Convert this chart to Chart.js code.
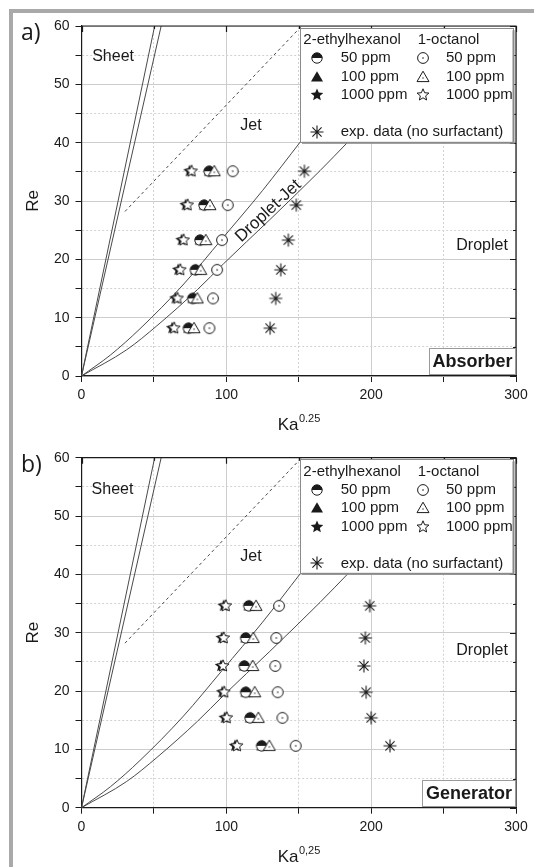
<!DOCTYPE html>
<html>
<head>
<meta charset="utf-8">
<script src="https://cdn.jsdelivr.net/npm/chart.js@4.4.1/dist/chart.umd.min.js"></script>
<style>
  html, body { margin: 0; padding: 0; background: #fff; }
  body { width: 534px; height: 867px; position: relative; overflow: hidden; }
  #panelA { position: absolute; left: 0; top: 0; }
  #panelB { position: absolute; left: 0; top: 433px; }
  .frame-top { position: absolute; left: 9px; top: 9px; width: 525px; height: 4px; background: #a9a9a9; }
  .frame-left { position: absolute; left: 9px; top: 9px; width: 4px; height: 858px; background: #a9a9a9; }
</style>
</head>
<body>
<canvas id="panelA" width="534" height="433"></canvas>
<canvas id="panelB" width="534" height="434"></canvas>
<div class="frame-top"></div>
<div class="frame-left"></div>
<script>
// ---- values (x = Ka^0.25, y = Re) ----

// a) absorber
const absRe      = [35.1, 29.3, 23.3, 18.2, 13.3, 8.2];
const absEh50    = [88.1, 84.6, 81.8, 78.6, 76.8, 73.8];
const absEh100   = [88.6, 85.1, 82.3, 79.1, 77.3, 74.3];
const absEh1000  = [74.6, 71.9, 69.1, 66.8, 64.9, 62.6];
const absOc50    = [104.4, 101.0, 97.0, 93.6, 90.8, 88.3];
const absOc100   = [91.7, 88.7, 85.8, 82.3, 80.0, 77.7];
const absOc1000  = [76.0, 73.3, 70.5, 68.2, 66.3, 64.0];
const absExp     = [153.9, 148.3, 142.8, 137.6, 134.1, 130.2];

// b) generator
const genRe      = [34.6, 29.1, 24.3, 19.8, 15.4, 10.6];
const genEh50    = [115.5, 113.4, 112.4, 113.4, 116.4, 124.4];
const genEh100   = [116.0, 113.9, 112.9, 113.9, 116.9, 124.9];
const genEh1000  = [98.2, 96.8, 96.3, 97.2, 98.9, 106.0];
const genOc50    = [136.4, 134.5, 133.8, 135.5, 138.7, 147.9];
const genOc100   = [120.5, 118.6, 118.2, 119.6, 122.1, 129.7];
const genOc1000  = [99.6, 98.2, 97.7, 98.6, 100.3, 107.4];
const genExp     = [199.0, 196.0, 195.0, 196.5, 200.0, 213.0];

// regime boundaries (same in both panels)
const sheet1X = [0, 50.5];
const sheet1Re = [0, 60];
const sheet2X = [0, 55.0];
const sheet2Re = [0, 60];
const jetX = [0, 20, 40.4, 70, 97, 125, 151.3];
const jetRe = [0, 3.6, 8.1, 15.6, 23.5, 31.8, 40.2];
const dropX = [0, 31.2, 52, 80, 97.9, 130, 164.7, 184.3];
const dropRe = [0, 4.5, 8.6, 14.8, 19.2, 26.8, 35.2, 40.2];
const dashX = [30.0, 152.0];
const dashRe = [28.2, 60];

// axes
const xMin = 0, xMax = 300, xStep = 50, xMajor = 100;
const yMin = 0, yMax = 60, yStep = 5, yMajor = 10;

// legend texts
const legendHeads = ['2-ethylhexanol', '1-octanol'];
const legendConc = ['50 ppm', '100 ppm', '1000 ppm'];
const legendExp = 'exp. data (no surfactant)';

const FONT = '"Liberation Sans", Arial, sans-serif';
const INK = '#1a1a1a';

function pts(xs, ys) {
    return xs.map((x, i) => ({ x: x, y: ys[i] }));
}

// ---- marker images ----
function marker(size, draw) {
    const c = document.createElement('canvas');
    c.width = size;
    c.height = size;
    const g = c.getContext('2d');
    g.translate(size / 2, size / 2);
    g.lineWidth = 1;
    g.strokeStyle = INK;
    g.fillStyle = INK;
    draw(g);
    return c;
}

function starPath(g, r) {
    g.beginPath();
    for (let i = 0; i < 10; i++) {
        const rr = i % 2 ? r * 0.45 : r;
        const ang = -Math.PI / 2 + i * Math.PI / 5;
        g.lineTo(rr * Math.cos(ang), rr * Math.sin(ang));
    }
    g.closePath();
}

function triPath(g) {
    g.beginPath();
    g.moveTo(0, -5.8);
    g.lineTo(6, 4.6);
    g.lineTo(-6, 4.6);
    g.closePath();
}

const mHalf = marker(14, g => {
    g.beginPath(); g.arc(0, 0, 5.2, 0, Math.PI * 2);
    g.fillStyle = '#fff'; g.fill();
    g.beginPath(); g.arc(0, 0, 5.2, Math.PI, Math.PI * 2); g.closePath();
    g.fillStyle = INK; g.fill();
    g.beginPath(); g.arc(0, 0, 5.2, 0, Math.PI * 2); g.stroke();
});
const mOpenCircle = marker(14, g => {
    g.beginPath(); g.arc(0, 0, 5.4, 0, Math.PI * 2);
    g.fillStyle = '#fff'; g.fill(); g.stroke();
    g.fillStyle = INK;
    g.beginPath(); g.arc(0, 0, 0.8, 0, Math.PI * 2); g.fill();
});
const mTri = marker(14, g => { triPath(g); g.fill(); });
const mOpenTri = marker(14, g => {
    triPath(g); g.fillStyle = '#fff'; g.fill(); g.stroke();
    g.fillStyle = INK;
    g.beginPath(); g.arc(0, 1, 0.7, 0, Math.PI * 2); g.fill();
});
const mStar = marker(16, g => { starPath(g, 6.6); g.fill(); });
const mOpenStar = marker(16, g => {
    starPath(g, 6.2); g.fillStyle = '#fff'; g.fill(); g.stroke();
});
const mAsterisk = marker(16, g => {
    g.lineWidth = 1.1;
    g.beginPath();
    for (let i = 0; i < 4; i++) {
        const ang = i * Math.PI / 4;
        g.moveTo(-6.5 * Math.cos(ang), -6.5 * Math.sin(ang));
        g.lineTo(6.5 * Math.cos(ang), 6.5 * Math.sin(ang));
    }
    g.stroke();
});

// ---- datasets ----
function curve(xs, ys, dash) {
    return {
        data: pts(xs, ys),
        showLine: true,
        borderColor: '#4a4a4a',
        borderWidth: 1,
        borderDash: dash || [],
        pointRadius: 0,
        cubicInterpolationMode: 'monotone',
        order: 20
    };
}

function points(xs, ys, style, order) {
    return {
        data: pts(xs, ys),
        showLine: false,
        pointStyle: style,
        pointRadius: 6,
        order: order
    };
}

function panelDatasets(re, eh50, eh100, eh1000, oc50, oc100, oc1000, exp) {
    return [
        curve(sheet1X, sheet1Re),
        curve(sheet2X, sheet2Re),
        curve(dashX, dashRe, [3, 3]),
        curve(jetX, jetRe),
        curve(dropX, dropRe),
        points(exp, re, mAsterisk, 9),
        points(eh100, re, mTri, 8),
        points(eh50, re, mHalf, 7),
        points(oc100, re, mOpenTri, 6),
        points(oc50, re, mOpenCircle, 5),
        points(eh1000, re, mStar, 4),
        points(oc1000, re, mOpenStar, 3)
    ];
}

// ---- decorations drawn on top of the plot ----
const panelDecor = {
    id: 'panelDecor',
    afterDraw(chart, args, opts) {
        const { ctx, chartArea: a, scales: { x, y } } = chart;
        ctx.save();

        // top / right axis with inward ticks
        ctx.strokeStyle = INK;
        ctx.lineWidth = 1.2;
        ctx.beginPath();
        ctx.moveTo(a.left, a.top);
        ctx.lineTo(a.right, a.top);
        ctx.lineTo(a.right, a.bottom);
        x.ticks.forEach(t => {
            const px = Math.round(x.getPixelForValue(t.value)) + 0.5;
            const len = t.value % xMajor ? 3 : 6;
            ctx.moveTo(px, a.top);
            ctx.lineTo(px, a.top + len);
        });
        y.ticks.forEach(t => {
            const py = Math.round(y.getPixelForValue(t.value)) + 0.5;
            const len = t.value % yMajor ? 3 : 6;
            ctx.moveTo(a.right, py);
            ctx.lineTo(a.right - len, py);
        });
        ctx.stroke();

        // regime labels
        ctx.fillStyle = INK;
        ctx.textAlign = 'center';
        ctx.textBaseline = 'middle';
        ctx.font = '16px ' + FONT;
        opts.regions.forEach(r => {
            ctx.fillText(r.text, x.getPixelForValue(r.x), y.getPixelForValue(r.y));
        });
        if (opts.dropletJet) {
            ctx.save();
            ctx.translate(x.getPixelForValue(opts.dropletJet.x), y.getPixelForValue(opts.dropletJet.y));
            ctx.rotate(-43 * Math.PI / 180);
            ctx.font = '17px ' + FONT;
            ctx.fillText('Droplet-Jet', 0, 0);
            ctx.restore();
        }

        // legend box
        const L = a.left + 218.5, T = a.top + opts.legendTop, R = a.right - 3.5, B = T + 113.5;
        ctx.fillStyle = '#8a8a8a';
        ctx.fillRect(L + 2, T + 2, R - L, B - T);
        ctx.fillStyle = '#fff';
        ctx.fillRect(L, T, R - L, B - T);
        ctx.strokeStyle = '#8a8a8a';
        ctx.lineWidth = 1;
        ctx.strokeRect(Math.round(L) + 0.5, Math.round(T) + 0.5, Math.round(R - L), Math.round(B - T));

        ctx.fillStyle = INK;
        ctx.font = '15px ' + FONT;
        ctx.textAlign = 'left';
        ctx.textBaseline = 'middle';
        const top = a.top;
        ctx.fillText(legendHeads[0], a.left + 221.8, top + 14);
        ctx.fillText(legendHeads[1], a.left + 336.2, top + 14);
        const rowsY = [32.3, 50.5, 69];
        const leftSyms = [mHalf, mTri, mStar];
        const rightSyms = [mOpenCircle, mOpenTri, mOpenStar];
        legendConc.forEach((txt, i) => {
            const yy = top + rowsY[i];
            const s1 = leftSyms[i], s2 = rightSyms[i];
            ctx.drawImage(s1, Math.round(a.left + 235.8 - s1.width / 2), Math.round(yy - s1.height / 2));
            ctx.drawImage(s2, Math.round(a.left + 341.8 - s2.width / 2), Math.round(yy - s2.height / 2));
            ctx.fillText(txt, a.left + 259.2, yy);
            ctx.fillText(txt, a.left + 364.5, yy);
        });
        ctx.drawImage(mAsterisk, Math.round(a.left + 235.8 - 8), Math.round(top + 105.7 - 8));
        ctx.fillText(legendExp, a.left + 259.2, top + 105.7);

        // absorber / generator box
        const bw = opts.tagWidth, bh = 26;
        const bx = Math.round(a.right - 1 - bw) + 0.5, by = Math.round(a.bottom - 2 - bh) + 0.5;
        ctx.fillStyle = '#fff';
        ctx.fillRect(bx, by, bw, bh);
        ctx.strokeStyle = '#9a9a9a';
        ctx.strokeRect(bx, by, bw, bh);
        ctx.fillStyle = INK;
        ctx.font = 'bold 18px ' + FONT;
        ctx.textAlign = 'center';
        ctx.fillText(opts.tag, bx + bw / 2, by + bh / 2 + 1);

        // panel letter
        ctx.textAlign = 'left';
        ctx.textBaseline = 'alphabetic';
        ctx.font = '23px "Open Sans", sans-serif';
        ctx.fillText(opts.letter, 21, a.top + 14);

        // axis titles
        ctx.font = '17px ' + FONT;
        ctx.save();
        ctx.translate(33, (a.top + a.bottom) / 2);
        ctx.rotate(-Math.PI / 2);
        ctx.textAlign = 'center';
        ctx.textBaseline = 'middle';
        ctx.fillText('Re', 0, 0);
        ctx.restore();

        const base = 'Ka', sup = opts.exponent;
        ctx.font = '17px ' + FONT;
        const w1 = ctx.measureText(base).width;
        ctx.font = '11px ' + FONT;
        const w2 = ctx.measureText(sup).width;
        const sx = (a.left + a.right) / 2 - (w1 + w2) / 2;
        const sy = a.bottom + 54;
        ctx.font = '17px ' + FONT;
        ctx.fillText(base, sx, sy);
        ctx.font = '11px ' + FONT;
        ctx.fillText(sup, sx + w1 + 0.5, sy - 8);

        ctx.restore();
    }
};

function makePanel(canvasId, datasets, padTop, padBottom, decor) {
    const ctx = document.getElementById(canvasId).getContext('2d');
    return new Chart(ctx, {
        type: 'scatter',
        data: { datasets: datasets },
        plugins: [panelDecor],
        options: {
            responsive: false,
            animation: false,
            events: [],
            layout: { padding: { left: 0, right: 18, top: padTop, bottom: padBottom } },
            scales: {
                x: {
                    type: 'linear',
                    min: xMin,
                    max: xMax,
                    afterFit: scale => { scale.height = 30; },
                    ticks: {
                        stepSize: xStep,
                        color: INK,
                        padding: 5,
                        maxRotation: 0,
                        font: { family: FONT, size: 14 },
                        callback: v => (v % xMajor === 0 ? v : '')
                    },
                    grid: {
                        color: c => (c.tick.value % xMajor === 0 ? '#cdcdcd' : '#d2d2d2'),
                        lineWidth: 1,
                        tickColor: INK,
                        tickLength: 6
                    },
                    border: {
                        color: INK,
                        width: 1.2,
                        dash: c => (c.tick && c.tick.value % xMajor !== 0 ? [2, 2] : [])
                    }
                },
                y: {
                    type: 'linear',
                    min: yMin,
                    max: yMax,
                    afterFit: scale => { scale.width = 81.5; },
                    ticks: {
                        stepSize: yStep,
                        color: INK,
                        padding: 6,
                        font: { family: FONT, size: 14 },
                        callback: v => (v % yMajor === 0 ? v : '')
                    },
                    grid: {
                        color: c => (c.tick.value % yMajor === 0 ? '#cdcdcd' : '#d2d2d2'),
                        lineWidth: 1,
                        tickColor: INK,
                        tickLength: 6
                    },
                    border: {
                        color: INK,
                        width: 1.2,
                        dash: c => (c.tick && c.tick.value % yMajor !== 0 ? [2, 2] : [])
                    }
                }
            },
            plugins: {
                legend: { display: false },
                tooltip: { enabled: false },
                panelDecor: decor
            }
        }
    });
}

makePanel('panelA',
    panelDatasets(absRe, absEh50, absEh100, absEh1000, absOc50, absOc100, absOc1000, absExp),
    26, 27, {
        letter: 'a)',
        tag: 'Absorber',
        tagWidth: 86,
        exponent: '0.25',
        legendTop: 2.3,
        regions: [
            { text: 'Sheet', x: 21.8, y: 54.7 },
            { text: 'Jet', x: 117, y: 43 },
            { text: 'Droplet', x: 276.6, y: 22.3 }
        ],
        dropletJet: { x: 129, y: 28.3 }
    });

makePanel('panelB',
    panelDatasets(genRe, genEh50, genEh100, genEh1000, genOc50, genOc100, genOc1000, genExp),
    24.7, 29.3, {
        letter: 'b)',
        tag: 'Generator',
        tagWidth: 93,
        exponent: '0,25',
        legendTop: 1.6,
        regions: [
            { text: 'Sheet', x: 21.4, y: 54.6 },
            { text: 'Jet', x: 117, y: 43 },
            { text: 'Droplet', x: 276.6, y: 26.9 }
        ],
        dropletJet: null
    });
</script>
</body>
</html>
